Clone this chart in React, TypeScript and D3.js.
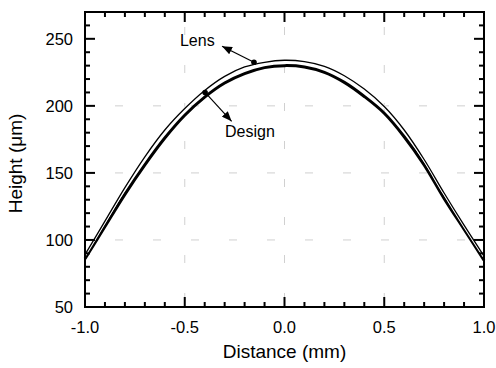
import {useEffect, useRef} from "react";
import * as d3 from "d3";

const distance = [-1.0, -0.9, -0.8, -0.7, -0.6, -0.5, -0.4, -0.3, -0.2, -0.1, 0.0, 0.1, 0.2, 0.3, 0.4, 0.5, 0.6, 0.7, 0.8, 0.9, 1.0];
const designHeight = [86, 110, 134, 156, 176, 193, 206.5, 217, 224, 228.5, 230, 229, 225, 217.5, 207, 194.5, 177, 156, 131, 108, 85];
const lensHeight = [89, 114, 139, 162, 182, 198, 211.5, 222, 229, 232.5, 234, 233, 229.5, 222.5, 212.5, 199.5, 182, 160, 135, 111, 88];

const xTickValues = [-1.0, -0.5, 0.0, 0.5, 1.0];
const xTickLabels = ["-1.0", "-0.5", "0.0", "0.5", "1.0"];
const yTickValues = [50, 100, 150, 200, 250];
const yTickLabels = ["50", "100", "150", "200", "250"];

const annotations = [
	{label: "Lens", dot: [-0.153, 232.5], tip: [-0.313, 244.5], text: [-0.35, 245], anchor: "end"},
	{label: "Design", dot: [-0.398, 210], tip: [-0.265, 188.5], text: [-0.298, 176.5], anchor: "start"},
];

const W = 496;
const H = 368;
const font = "'Liberation Sans', Arial, sans-serif";

export default function App() {
	const svgRef = useRef<SVGSVGElement>(null);

	useEffect(() => {
		const left = 85, right = 484, top = 12, bottom = 307;
		const x = d3.scaleLinear().domain([-1, 1]).range([left, right]);
		const y = d3.scaleLinear().domain([50, 270]).range([bottom, top]);

		const svg = d3.select(svgRef.current);
		svg.selectAll("*").remove();

		svg.append("defs")
			.append("marker")
			.attr("id", "arrow")
			.attr("markerUnits", "userSpaceOnUse")
			.attr("markerWidth", 10)
			.attr("markerHeight", 8)
			.attr("refX", 10)
			.attr("refY", 4)
			.attr("orient", "auto")
			.append("path")
			.attr("d", "M0,0 L10,4 L0,8 z")
			.attr("fill", "#000");

		// sparse dotted grid, very faint
		const grid = svg.append("g").attr("stroke", "#c4c4c4").attr("stroke-width", 0.8).attr("stroke-dasharray", "8,30");
		grid.selectAll("line.h")
			.data([100, 150, 200])
			.enter()
			.append("line")
			.attr("x1", left + 30)
			.attr("x2", right)
			.attr("y1", (d) => y(d))
			.attr("y2", (d) => y(d));
		grid.selectAll("line.v")
			.data([-0.5, 0, 0.5])
			.enter()
			.append("line")
			.attr("x1", (d) => x(d))
			.attr("x2", (d) => x(d))
			.attr("y1", top + 15)
			.attr("y2", bottom);

		const pts = (vals: number[]) => distance.map((d, i) => [d, vals[i]] as [number, number]);
		const line = d3.line<[number, number]>()
			.x((d) => x(d[0]))
			.y((d) => y(d[1]))
			.curve(d3.curveCatmullRom);

		svg.append("path")
			.attr("d", line(pts(designHeight)))
			.attr("fill", "none")
			.attr("stroke", "#000")
			.attr("stroke-width", 3);
		svg.append("path")
			.attr("d", line(pts(lensHeight)))
			.attr("fill", "none")
			.attr("stroke", "#fff")
			.attr("stroke-width", 3.2);
		svg.append("path")
			.attr("d", line(pts(lensHeight)))
			.attr("fill", "none")
			.attr("stroke", "#000")
			.attr("stroke-width", 1.3);

		// axes with inward ticks
		const axes = svg.append("g").attr("font-family", font).attr("font-size", 16.5);
		const tickG = axes.append("g").attr("stroke", "#000").attr("stroke-width", 2);
		const xMinor = x.ticks(20);
		const yMinor = y.ticks(22);
		const isMajorX = (v: number) => xTickValues.some((t) => Math.abs(t - v) < 1e-6);
		const isMajorY = (v: number) => yTickValues.some((t) => Math.abs(t - v) < 1e-6);
		xMinor.forEach((v) => {
			const len = isMajorX(v) ? 10 : 5;
			tickG.append("line").attr("x1", x(v)).attr("x2", x(v)).attr("y1", bottom).attr("y2", bottom - len);
			tickG.append("line").attr("x1", x(v)).attr("x2", x(v)).attr("y1", top).attr("y2", top + len);
		});
		yMinor.forEach((v) => {
			const len = isMajorY(v) ? 10 : 5;
			tickG.append("line").attr("y1", y(v)).attr("y2", y(v)).attr("x1", left).attr("x2", left + len);
			tickG.append("line").attr("y1", y(v)).attr("y2", y(v)).attr("x1", right).attr("x2", right - len);
		});

		axes.selectAll("text.xt")
			.data(xTickValues)
			.enter()
			.append("text")
			.attr("x", (d) => x(d))
			.attr("y", bottom + 26)
			.attr("text-anchor", "middle")
			.text((_, i) => xTickLabels[i]);
		axes.selectAll("text.yt")
			.data(yTickValues)
			.enter()
			.append("text")
			.attr("x", left - 12)
			.attr("y", (d) => y(d) + 6)
			.attr("text-anchor", "end")
			.text((_, i) => yTickLabels[i]);

		svg.append("rect")
			.attr("x", left)
			.attr("y", top)
			.attr("width", right - left)
			.attr("height", bottom - top)
			.attr("fill", "none")
			.attr("stroke", "#000")
			.attr("stroke-width", 2);

		svg.append("text")
			.attr("x", (left + right) / 2)
			.attr("y", 358)
			.attr("text-anchor", "middle")
			.attr("font-family", font)
			.attr("font-size", 19)
			.text("Distance (mm)");
		svg.append("text")
			.attr("transform", `translate(22,${(top + bottom) / 2 + 4}) rotate(-90)`)
			.attr("text-anchor", "middle")
			.attr("font-family", font)
			.attr("font-size", 19)
			.text("Height (\u03bcm)");

		// annotations
		const ann = svg.append("g").selectAll("g").data(annotations).enter().append("g");
		ann.append("line")
			.attr("x1", (d) => x(d.dot[0]))
			.attr("y1", (d) => y(d.dot[1]))
			.attr("x2", (d) => x(d.tip[0]))
			.attr("y2", (d) => y(d.tip[1]))
			.attr("stroke", "#000")
			.attr("stroke-width", 1.2)
			.attr("marker-end", "url(#arrow)");
		ann.append("circle")
			.attr("cx", (d) => x(d.dot[0]))
			.attr("cy", (d) => y(d.dot[1]))
			.attr("r", 2.8)
			.attr("fill", "#000");
		ann.append("text")
			.attr("x", (d) => x(d.text[0]))
			.attr("y", (d) => y(d.text[1]))
			.attr("text-anchor", (d) => d.anchor)
			.attr("font-family", font)
			.attr("font-size", 16)
			.text((d) => d.label);
	}, []);

	return (
		<svg
			ref={svgRef}
			width={W}
			height={H}
			viewBox={`0 0 ${W} ${H}`}
			style={{position: "absolute", left: 0, top: 0, background: "#fff"}}
		></svg>
	);
}
